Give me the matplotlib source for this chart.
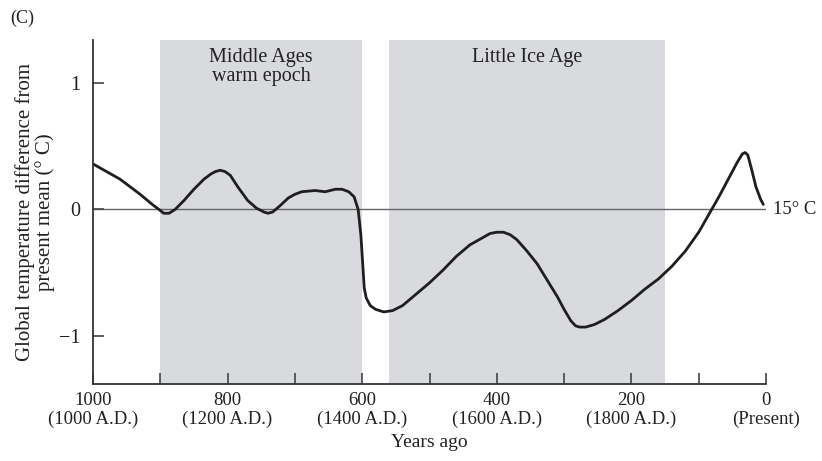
import numpy as np
import matplotlib
matplotlib.use("Agg")
import matplotlib.pyplot as plt

plt.rcParams['font.family'] = ['Liberation Serif', 'DejaVu Serif']

# curve: years ago vs temperature difference (deg C)
years_ago = [1000, 960, 930, 912, 902, 895, 887, 878, 865, 850, 835, 825, 818,
             811, 804, 796, 785, 770, 757, 746, 740, 733, 722, 710, 700, 690,
             670, 655, 640, 630, 620, 612, 606, 602, 599, 597, 594, 588, 580,
             568, 555, 540, 520, 500, 480, 460, 440, 420, 410, 400, 390, 380,
             370, 355, 340, 325, 310, 300, 290, 283, 277, 268, 255, 240, 220,
             200, 180, 160, 140, 120, 100, 85, 70, 55, 42, 35, 31, 27, 22, 15,
             8, 4]
temp_diff = [0.36, 0.24, 0.12, 0.04, 0.0, -0.03, -0.03, 0.0, 0.07, 0.16, 0.24,
             0.28, 0.30, 0.31, 0.30, 0.27, 0.18, 0.07, 0.01, -0.02, -0.03,
             -0.02, 0.03, 0.09, 0.12, 0.14, 0.15, 0.14, 0.16, 0.16, 0.14, 0.10,
             0.0, -0.2, -0.45, -0.62, -0.70, -0.76, -0.79, -0.81, -0.80, -0.76,
             -0.67, -0.58, -0.48, -0.37, -0.28, -0.22, -0.19, -0.18, -0.18,
             -0.20, -0.24, -0.33, -0.43, -0.56, -0.69, -0.79, -0.88, -0.92,
             -0.93, -0.93, -0.91, -0.87, -0.80, -0.72, -0.63, -0.55, -0.45,
             -0.33, -0.18, -0.04, 0.10, 0.25, 0.38, 0.44, 0.45, 0.43, 0.33,
             0.18, 0.08, 0.04]

# shaded periods (years ago)
periods = [(900, 600, "Middle Ages\nwarm epoch"), (560, 150, "Little Ice Age")]

major_ticks = [1000, 800, 600, 400, 200, 0]
tick_labels = ["1000\n(1000 A.D.)", "800\n(1200 A.D.)", "600\n(1400 A.D.)",
               "400\n(1600 A.D.)", "200\n(1800 A.D.)", "0\n(Present)"]
minor_ticks = [900, 700, 500, 300, 100]
y_ticks = [1, 0, -1]
y_labels = ["1", "0", "\u22121"]

fig = plt.figure(figsize=(8.22, 4.61), dpi=100)
ax = fig.add_axes([93 / 822, 1 - 384 / 461, (766 - 93) / 822, (384 - 40) / 461])

for start, end, label in periods:
    ax.axvspan(start, end, color='#d9dadd', lw=0, zorder=0)
    ax.text((start + end) / 2, 1.28, label, ha='center', va='top',
            fontsize=14.5, color='#222222', linespacing=1.0)

ax.plot([1000, 0], [0, 0], color='#666666', lw=1, zorder=1)
ax.plot(years_ago, temp_diff, color='#1e1e1e', lw=2, zorder=2,
        solid_joinstyle='round', solid_capstyle='round')

ax.text(-10, 0, "15\u00b0 C", ha='left', va='center', fontsize=13.5,
        color='#222222', clip_on=False)

ax.set_xlim(1000, 0)
ax.set_ylim(-1.38, 1.34)

ax.set_xticks(major_ticks)
ax.set_xticklabels(tick_labels, fontsize=13.5, linespacing=1.1)
ax.set_xticks(minor_ticks, minor=True)
ax.set_yticks(y_ticks)
ax.set_yticklabels(y_labels, fontsize=14.5)
ax.tick_params(axis='both', which='both', direction='in', length=8,
               width=1.2, color='#444444', labelcolor='#222222')
ax.tick_params(axis='x', which='major', pad=6)
ax.tick_params(axis='y', pad=9)

for s in ['top', 'right']:
    ax.spines[s].set_visible(False)
for s in ['left', 'bottom']:
    ax.spines[s].set_linewidth(1.3)
    ax.spines[s].set_color('#333333')

ax.set_xlabel("Years ago", fontsize=14, color='#222222', labelpad=4)
ax.set_ylabel("Global temperature difference from\npresent mean (\u00b0 C)",
              fontsize=15, color='#222222', linespacing=1.0, labelpad=3)

fig.text(10 / 822, 1 - 18 / 461, "(C)", fontsize=13, va='center', color='#222222')

fig.savefig("out.png", dpi=100)
